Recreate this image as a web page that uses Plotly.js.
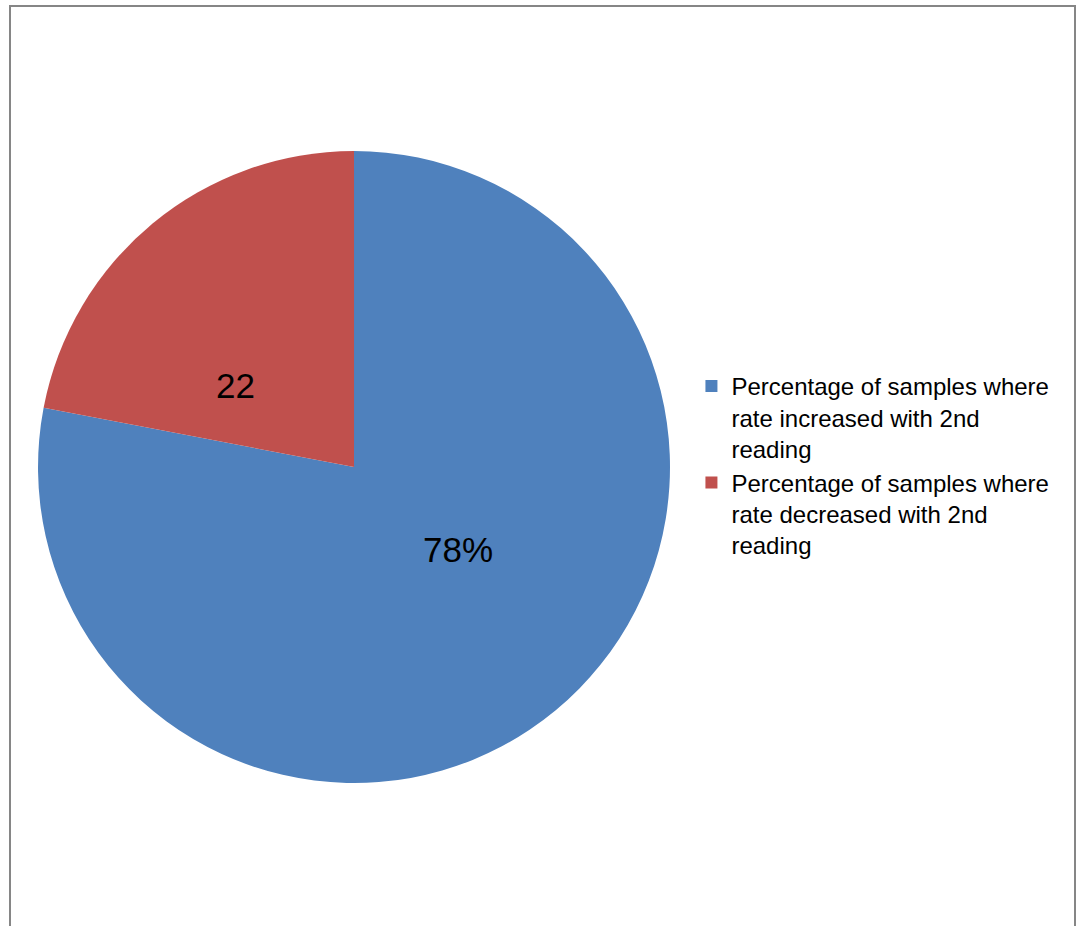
<!DOCTYPE html>
<html>
<head>
<meta charset="utf-8">
<script src="https://cdn.plot.ly/plotly-3.0.1.min.js"></script>
<style>
html,body{margin:0;padding:0;background:#fff;}
#wrap{position:relative;width:1077px;height:926px;}
#chart{position:absolute;left:0;top:0;width:1077px;height:926px;}
#frame{position:absolute;left:9px;top:5px;width:1063px;height:940px;border-left:2px solid #868686;border-top:2px solid #868686;border-right:2px solid #868686;pointer-events:none;}
</style>
</head>
<body>
<div id="wrap"><div id="chart"></div><div id="frame"></div></div>
<script>
const categories = [
  "Percentage of samples where<br>rate increased with 2nd<br>reading",
  "Percentage of samples where<br>rate decreased with 2nd<br>reading"
];
const values = [78, 22];
const sliceLabels = ["78%", "22"];
const colors = ["#4F81BD", "#C0504D"];
// label anchor positions (paper fractions) where the data labels sit
const labelPosX = [0.4253, 0.2191];
const labelPosY = [0.4071, 0.5832];

const trace = {
  type: "pie",
  labels: categories,
  values: values,
  textinfo: "none",
  sort: false,
  direction: "clockwise",
  rotation: 0,
  marker: {colors: colors, line: {width: 0}},
  domain: {x: [0.0353, 0.6221], y: [0.1544, 0.8369]},
  hoverinfo: "none"
};

const annotations = sliceLabels.map((t, i) => ({
  text: t, x: labelPosX[i], y: labelPosY[i], xref: "paper", yref: "paper",
  xanchor: "center", yanchor: "middle", showarrow: false,
  font: {family: "Liberation Sans, Arial, sans-serif", size: 35, color: "#000"}
}));

const layout = {
  width: 1077, height: 926,
  margin: {l: 0, r: 0, t: 0, b: 0},
  paper_bgcolor: "#fff",
  showlegend: true,
  annotations: annotations,
  legend: {
    x: 0.642, y: 0.607, xanchor: "left", yanchor: "top",
    valign: "top",
    font: {family: "Liberation Sans, Arial, sans-serif", size: 24, color: "#000"},
    itemwidth: 30
  }
};

Plotly.newPlot("chart", [trace], layout, {displayModeBar: false, staticPlot: true});
</script>
</body>
</html>
